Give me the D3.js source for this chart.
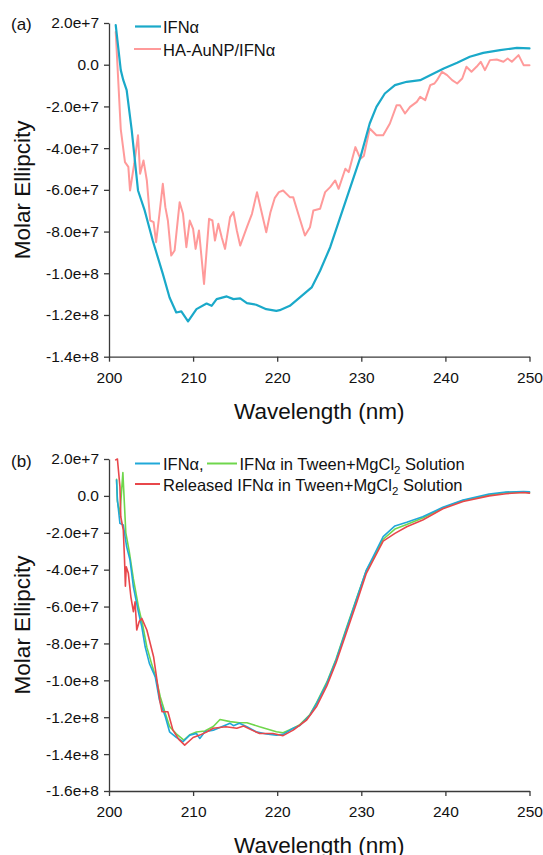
<!DOCTYPE html>
<html><head><meta charset="utf-8">
<script src="https://cdn.jsdelivr.net/npm/d3@7"></script>
<style>body{margin:0;background:#fff}svg{display:block}</style>
</head><body><svg id="c" width="543" height="855"></svg>
<script>
// ---------- tick values / labels ----------
const wlTicks = [200, 210, 220, 230, 240, 250];
const yTicksA = [2e7, 0, -2e7, -4e7, -6e7, -8e7, -1e8, -1.2e8, -1.4e8];
const yLabelsA = ["2.0e+7","0.0","-2.0e+7","-4.0e+7","-6.0e+7","-8.0e+7","-1.0e+8","-1.2e+8","-1.4e+8"];
const yTicksB = [2e7, 0, -2e7, -4e7, -6e7, -8e7, -1e8, -1.2e8, -1.4e8, -1.6e8];
const yLabelsB = ["2.0e+7","0.0","-2.0e+7","-4.0e+7","-6.0e+7","-8.0e+7","-1.0e+8","-1.2e+8","-1.4e+8","-1.6e+8"];

// ---------- panel (a) data (values in units of 1e7) ----------
const a_ifn_wl = [200.8,201.4,201.7,202.1,202.7,203.45,204.25,205.2,206.4,207.2,208.0,208.6,209.4,210.4,211.6,212.2,212.8,214.0,214.8,215.6,216.4,217.5,218.7,219.9,220.3,221.5,222.7,224.1,225.1,226.3,227.5,228.7,229.9,231.0,231.8,232.8,234.0,235.4,237.0,238.6,239.8,241.4,242.9,244.5,246.5,248.5,250];
const a_ifn_v  = [1.9,-0.26,-0.74,-1.22,-3.14,-6.03,-7.0,-8.43,-10.03,-11.16,-11.88,-11.83,-12.31,-11.72,-11.45,-11.56,-11.24,-11.11,-11.24,-11.2,-11.43,-11.51,-11.72,-11.8,-11.77,-11.56,-11.16,-10.68,-9.88,-8.75,-7.31,-5.87,-4.43,-2.82,-2.02,-1.38,-0.98,-0.82,-0.74,-0.42,-0.18,0.09,0.38,0.57,0.70,0.81,0.78];

const a_ha_wl = [200.8,201.4,201.9,202.3,202.5,203.0,203.45,203.7,204.1,204.5,204.9,205.3,205.6,206.0,206.4,206.7,207.0,207.4,207.8,208.4,208.8,209.2,209.6,210.0,210.3,210.7,211.3,211.9,212.3,212.6,213.0,213.4,213.8,214.4,214.8,215.2,215.6,216.4,217.0,217.6,218.1,218.7,219.2,219.7,220.2,220.7,221.5,221.9,222.5,223.3,223.9,224.3,225.1,225.7,226.3,226.9,227.3,228.1,228.5,229.3,229.9,230.3,231.0,231.8,232.6,233.4,234.2,234.6,235.2,235.8,236.6,237.0,237.6,238.2,238.7,239.0,239.6,240.2,240.8,241.4,242.0,242.5,243.1,243.7,244.2,244.7,245.3,246.1,246.9,247.4,247.9,248.7,249.3,250];
const a_ha_v  = [1.57,-3.1,-4.67,-4.9,-6.03,-4.75,-3.38,-5.23,-4.59,-5.55,-7.47,-7.55,-8.51,-7.15,-5.71,-6.83,-7.47,-9.15,-8.91,-6.59,-7.15,-8.75,-7.47,-7.87,-8.83,-7.95,-10.51,-7.39,-7.47,-8.43,-7.63,-8.27,-8.83,-7.31,-7.07,-7.95,-8.67,-7.79,-7.15,-6.11,-6.99,-8.03,-7.07,-6.4,-6.11,-6.03,-6.35,-6.35,-7.15,-8.19,-7.79,-6.99,-6.91,-6.11,-5.87,-5.55,-5.95,-4.99,-5.15,-3.95,-4.51,-4.38,-3.06,-3.38,-3.38,-2.82,-1.94,-1.94,-2.34,-2.02,-1.78,-1.54,-1.7,-0.98,-0.9,-0.74,-0.34,-0.5,-0.74,-0.9,-0.66,-0.1,-0.34,-0.1,0.14,-0.26,0.22,0.25,0.14,0.3,0.14,0.46,-0.02,-0.02];

// ---------- panel (b) data (values in units of 1e7) ----------
const b_ifn_wl = [200.9,201.0,201.3,201.7,202.1,202.5,202.9,203.5,203.9,204.3,204.8,205.5,206.0,206.7,207.2,208.0,208.8,209.6,210.4,210.8,211.4,212.4,213.4,214.4,214.8,215.5,216.4,217.5,218.7,219.9,220.7,221.9,222.7,223.9,224.7,225.9,227.0,228.2,229.4,230.6,231.4,232.6,234.0,235.4,237.3,239.7,242.1,245.2,247.2,249.3,250];
const b_ifn_v  = [0.86,-0.22,-1.49,-1.58,-2.76,-3.48,-4.93,-6.3,-7.1,-8.18,-9.08,-9.81,-11.07,-11.97,-12.79,-13.09,-13.33,-12.97,-12.88,-13.15,-12.79,-12.70,-12.52,-12.33,-12.46,-12.33,-12.52,-12.79,-12.91,-12.97,-12.93,-12.6,-12.45,-11.88,-11.25,-10.16,-8.9,-7.27,-5.65,-4.02,-3.3,-2.21,-1.63,-1.43,-1.13,-0.62,-0.22,0.1,0.21,0.24,0.22];

const b_tw_wl = [200.9,201.0,201.3,201.65,202.0,202.4,202.9,203.5,204.0,204.5,205.0,205.6,206.1,206.7,207.2,208.0,208.9,209.6,210.4,211.4,212.4,213.2,214.4,215.5,216.4,217.9,219.9,220.7,221.9,222.7,223.9,224.7,225.9,227.0,228.2,229.4,230.6,231.4,232.6,234.0,235.4,237.3,239.7,242.1,245.2,247.2,249.3,250];
const b_tw_v  = [0.9,-0.3,-1.0,1.26,-2.0,-3.0,-4.5,-6.0,-7.0,-8.2,-9.0,-9.9,-10.9,-11.8,-12.5,-12.9,-13.24,-12.95,-12.8,-12.75,-12.5,-12.12,-12.24,-12.3,-12.3,-12.52,-12.79,-12.84,-12.6,-12.4,-11.85,-11.2,-10.1,-8.85,-7.2,-5.6,-4.05,-3.4,-2.35,-1.8,-1.55,-1.2,-0.65,-0.25,0.05,0.18,0.2,0.18];

const b_rel_wl = [200.8,201.0,201.3,201.4,201.7,201.85,201.95,202.05,202.3,202.6,202.9,203.1,203.3,203.6,203.9,204.5,205.3,206.1,206.3,207.0,207.6,208.3,209.0,210.0,210.8,211.6,212.4,213.9,215.2,216.0,217.0,217.9,219.5,220.7,221.9,223.5,224.7,225.9,227.0,228.2,229.4,230.6,231.4,232.6,234.0,235.4,237.3,239.7,242.1,245.2,247.2,249.3,250];
const b_rel_v  = [1.95,2.0,0.5,-1.13,-1.85,-3.5,-4.9,-3.84,-4.2,-5.47,-6.28,-5.74,-7.27,-6.8,-6.64,-7.27,-8.72,-11.25,-11.7,-11.7,-12.7,-13.2,-13.51,-13.1,-12.97,-12.8,-12.6,-12.52,-12.6,-12.48,-12.7,-12.88,-12.88,-13.0,-12.7,-12.15,-11.4,-10.3,-9.05,-7.45,-5.85,-4.2,-3.5,-2.45,-2.03,-1.67,-1.31,-0.7,-0.3,0.0,0.12,0.18,0.15];

// ---------- drawing ----------
const FONT = "'Liberation Sans', Arial, Helvetica, sans-serif";
const svg = d3.select("#c");
svg.append("rect").attr("width",543).attr("height",855).attr("fill","#fff");

function zip(w, v){ return w.map((d,i)=>[d, v[i]*1e7]); }

function panel(cfg){
  const g = svg.append("g");
  const x = d3.scaleLinear().domain([200,250]).range([109,529.5]);
  const y = d3.scaleLinear().domain(cfg.ydom).range(cfg.yrange);

  const xa = g.append("g").attr("transform",`translate(0,${cfg.yrange[0]})`)
    .call(d3.axisBottom(x).tickValues(wlTicks).tickFormat(d3.format("d")).tickSize(5).tickPadding(10).tickSizeOuter(0));
  const ya = g.append("g").attr("transform",`translate(109,0)`)
    .call(d3.axisLeft(y).tickValues(cfg.yticks).tickFormat((d,i)=>cfg.ylabels[i]).tickSize(5).tickPadding(5).tickSizeOuter(0));
  [xa,ya].forEach(a=>{
    a.selectAll("path,line").attr("stroke","#3a3a3a").attr("stroke-width",1.3);
    a.selectAll("text").attr("fill","#111").style("font-family",FONT).style("font-size","15.5px");
  });

  const line = d3.line().x(d=>x(d[0])).y(d=>y(d[1]));
  cfg.series.forEach(s=>{
    g.append("path").datum(zip(s.wl,s.v)).attr("d",line)
      .attr("fill","none").attr("stroke",s.color).attr("stroke-width",s.width)
      .attr("stroke-linejoin","round").attr("stroke-linecap","round");
  });

  g.append("text").attr("x",(109+529.5)/2).attr("y",cfg.yrange[0]+62)
    .attr("text-anchor","middle").style("font-family",FONT).style("font-size","22.5px").attr("fill","#111")
    .text("Wavelength (nm)");
  g.append("text").attr("transform",`translate(30,${(cfg.yrange[0]+cfg.yrange[1])/2}) rotate(-90)`)
    .attr("text-anchor","middle").style("font-family",FONT).style("font-size","22.5px").attr("fill","#111")
    .text("Molar Ellipcity");
  g.append("text").attr("x",11).attr("y",cfg.labelY)
    .style("font-family",FONT).style("font-size","17px").attr("fill","#111").text(cfg.label);
  return g;
}

const cBlueA = "#1aa9c9", cPink = "#ff9a9a";
const cBlueB = "#20a8d8", cGreen = "#6fd64c", cRed = "#e8474b";

panel({ydom:[-1.4e8,2e7], yrange:[356.7,23], yticks:yTicksA, ylabels:yLabelsA, label:"(a)", labelY:30,
  series:[
    {wl:a_ha_wl, v:a_ha_v, color:cPink, width:2},
    {wl:a_ifn_wl, v:a_ifn_v, color:cBlueA, width:2.2}
  ]});
panel({ydom:[-1.6e8,2e7], yrange:[791,459], yticks:yTicksB, ylabels:yLabelsB, label:"(b)", labelY:467,
  series:[
    {wl:b_tw_wl, v:b_tw_v, color:cGreen, width:1.6},
    {wl:b_ifn_wl, v:b_ifn_v, color:cBlueB, width:1.6},
    {wl:b_rel_wl, v:b_rel_v, color:cRed, width:1.6}
  ]});

// ---------- legends ----------
function legLine(x1,x2,yy,c,w){ svg.append("line").attr("x1",x1).attr("x2",x2).attr("y1",yy).attr("y2",yy).attr("stroke",c).attr("stroke-width",w); }
function legText(xx,yy){ return svg.append("text").attr("x",xx).attr("y",yy).style("font-family",FONT).style("font-size","16.5px").attr("fill","#111"); }

legLine(135,161,26.5,cBlueA,2.2); legText(163,33).text("IFNα");
legLine(134,161,49,cPink,2); legText(163,55.5).text("HA-AuNP/IFNα");

legLine(135,160,463.5,cBlueB,2); legText(163,469.5).text("IFNα,");
legLine(207,237,463.5,cGreen,2);
{ const t = legText(239.5,469.5); t.append("tspan").text("IFNα in Tween+MgCl");
  t.append("tspan").attr("dy",4).style("font-size","11.5px").text("2");
  t.append("tspan").attr("dy",-4).text(" Solution"); }
legLine(135,160,484,cRed,2);
{ const t = legText(163,490.5); t.append("tspan").text("Released IFNα in Tween+MgCl");
  t.append("tspan").attr("dy",4).style("font-size","11.5px").text("2");
  t.append("tspan").attr("dy",-4).text(" Solution"); }
</script></body></html>
